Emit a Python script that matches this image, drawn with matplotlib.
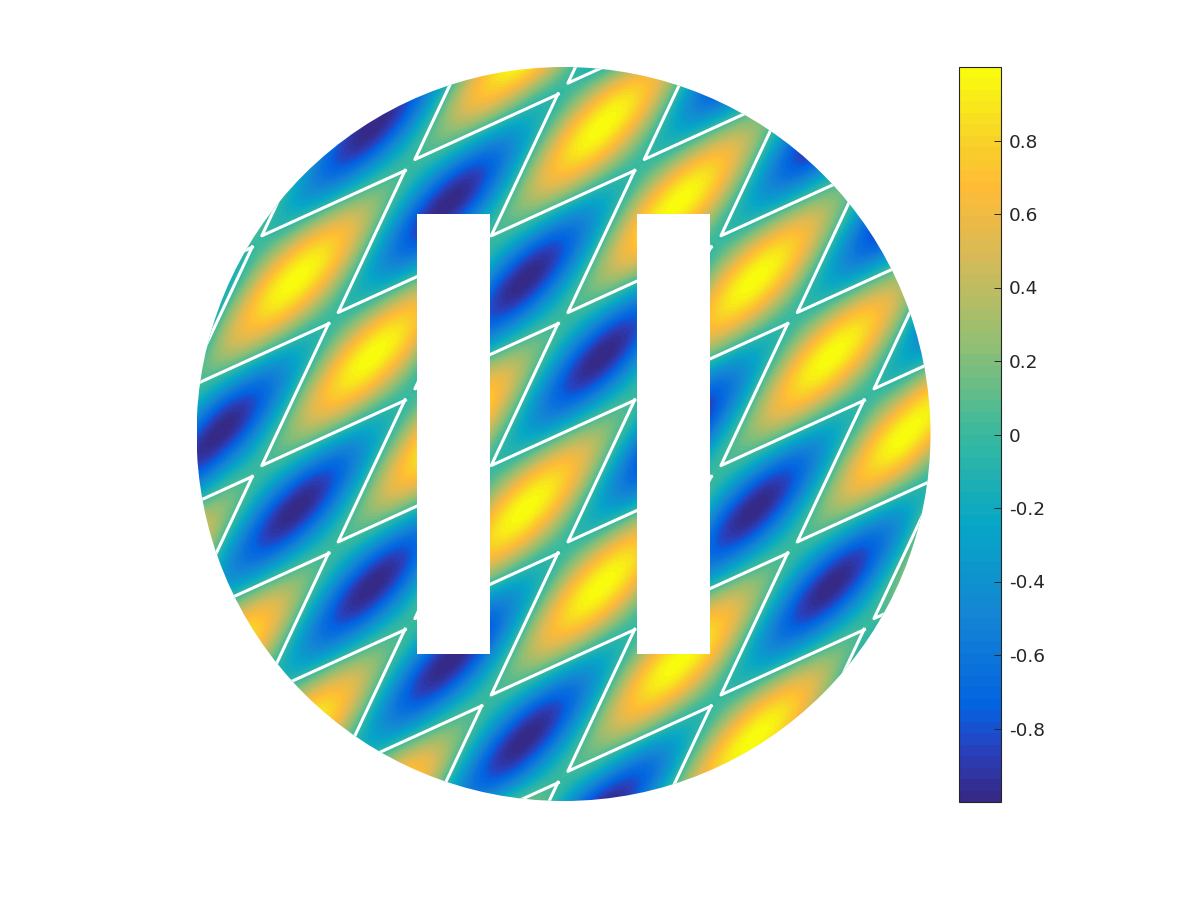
import matplotlib
matplotlib.use("Agg")
import matplotlib.pyplot as plt
from matplotlib.colors import LinearSegmentedColormap
from matplotlib.patches import Circle, Rectangle
import numpy as np

# field samples, top row first (23 x 23)
field_rows = [
    [0, -.75, -.43, 0, -.43, -.75, 0, .75, .43, 0, .43, .75, 0, -.75, -.43, 0, -.43, -.75, 0, .75, .43, 0, .43],
    [-.25, 0, .25, -.43, -1, -.43, .25, 0, -.25, .43, 1, .43, -.25, 0, .25, -.43, -1, -.43, .25, 0, -.25, .43, 1],
    [.43, .75, 0, -.75, -.43, 0, -.43, -.75, 0, .75, .43, 0, .43, .75, 0, -.75, -.43, 0, -.43, -.75, 0, .75, .43],
    [1, .43, -.25, 0, .25, -.43, -1, -.43, .25, 0, -.25, .43, 1, .43, -.25, 0, .25, -.43, -1, -.43, .25, 0, -.25],
    [.43, 0, .43, .75, 0, -.75, -.43, 0, -.43, -.75, 0, .75, .43, 0, .43, .75, 0, -.75, -.43, 0, -.43, -.75, 0],
    [-.25, .43, 1, .43, -.25, 0, .25, -.43, -1, -.43, .25, 0, -.25, .43, 1, .43, -.25, 0, .25, -.43, -1, -.43, .25],
    [0, .75, .43, 0, .43, .75, 0, -.75, -.43, 0, -.43, -.75, 0, .75, .43, 0, .43, .75, 0, -.75, -.43, 0, -.43],
    [.25, 0, -.25, .43, 1, .43, -.25, 0, .25, -.43, -1, -.43, .25, 0, -.25, .43, 1, .43, -.25, 0, .25, -.43, -1],
    [-.43, -.75, 0, .75, .43, 0, .43, .75, 0, -.75, -.43, 0, -.43, -.75, 0, .75, .43, 0, .43, .75, 0, -.75, -.43],
    [-1, -.43, .25, 0, -.25, .43, 1, .43, -.25, 0, .25, -.43, -1, -.43, .25, 0, -.25, .43, 1, .43, -.25, 0, .25],
    [-.43, 0, -.43, -.75, 0, .75, .43, 0, .43, .75, 0, -.75, -.43, 0, -.43, -.75, 0, .75, .43, 0, .43, .75, 0],
    [.25, -.43, -1, -.43, .25, 0, -.25, .43, 1, .43, -.25, 0, .25, -.43, -1, -.43, .25, 0, -.25, .43, 1, .43, -.25],
    [0, -.75, -.43, 0, -.43, -.75, 0, .75, .43, 0, .43, .75, 0, -.75, -.43, 0, -.43, -.75, 0, .75, .43, 0, .43],
    [-.25, 0, .25, -.43, -1, -.43, .25, 0, -.25, .43, 1, .43, -.25, 0, .25, -.43, -1, -.43, .25, 0, -.25, .43, 1],
    [.43, .75, 0, -.75, -.43, 0, -.43, -.75, 0, .75, .43, 0, .43, .75, 0, -.75, -.43, 0, -.43, -.75, 0, .75, .43],
    [1, .43, -.25, 0, .25, -.43, -1, -.43, .25, 0, -.25, .43, 1, .43, -.25, 0, .25, -.43, -1, -.43, .25, 0, -.25],
    [.43, 0, .43, .75, 0, -.75, -.43, 0, -.43, -.75, 0, .75, .43, 0, .43, .75, 0, -.75, -.43, 0, -.43, -.75, 0],
    [-.25, .43, 1, .43, -.25, 0, .25, -.43, -1, -.43, .25, 0, -.25, .43, 1, .43, -.25, 0, .25, -.43, -1, -.43, .25],
    [0, .75, .43, 0, .43, .75, 0, -.75, -.43, 0, -.43, -.75, 0, .75, .43, 0, .43, .75, 0, -.75, -.43, 0, -.43],
    [.25, 0, -.25, .43, 1, .43, -.25, 0, .25, -.43, -1, -.43, .25, 0, -.25, .43, 1, .43, -.25, 0, .25, -.43, -1],
    [-.43, -.75, 0, .75, .43, 0, .43, .75, 0, -.75, -.43, 0, -.43, -.75, 0, .75, .43, 0, .43, .75, 0, -.75, -.43],
    [-1, -.43, .25, 0, -.25, .43, 1, .43, -.25, 0, .25, -.43, -1, -.43, .25, 0, -.25, .43, 1, .43, -.25, 0, .25],
    [-.43, 0, -.43, -.75, 0, .75, .43, 0, .43, .75, 0, -.75, -.43, 0, -.43, -.75, 0, .75, .43, 0, .43, .75, 0],
]
field_extent = (-1.1999, 1.1971, -1.1951, 1.2020)

# places where the white zero lines meet, as (x, y) in disc units
x_rows = {
    "a": [-.835, -.210, .416, 1.041],
    "b": [-1.252, -.627, -.001, .624, 1.249],
    "c": [-1.043, -.418, .207, .833],
}
cross_rows = [
    (1.150, "a"), (.941, "b"), (.733, "c"), (.525, "a"), (.316, "b"), (.108, "c"), (-.101, "a"),
    (-.309, "b"), (-.518, "c"), (-.726, "a"), (-.934, "b"), (-1.143, "c"), (-1.351, "a"),
]
# step to the next meeting point along each line family
shallow_step = (.417, .208)
steep_step = (.208, .417)
corner_gap = (.013, .015)

slit_left = [-.4, .2]
slit_width = .2
slit_bottom = -.6
slit_height = 1.2

cbar_ticks = [-.8, -.6, -.4, -.2, 0, .2, .4, .6, .8]
cbar_labels = ["-0.8", "-0.6", "-0.4", "-0.2", "0", "0.2", "0.4", "0.6", "0.8"]

cmap_stops = [
    (0, "#352a87"), (.0625, "#2a3fbc"), (.125, "#0363e1"), (.25, "#1485d4"), (.375, "#06a7c6"),
    (.5, "#38b99e"), (.625, "#92bf73"), (.75, "#d9ba56"), (.84, "#ffbb36"), (.9, "#f8d02a"), (1, "#f9fb0e"),
]
parula = LinearSegmentedColormap.from_list("parula_like", cmap_stops, N=64)

fig = plt.figure(figsize=(12, 9), dpi=100)
ax = fig.add_axes([196.5 / 1200, 99 / 900, 734 / 1200, 734 / 900])
im = ax.imshow(np.array(field_rows), extent=field_extent, origin="upper", cmap=parula, vmin=-1, vmax=1,
               interpolation="lanczos", interpolation_stage="data", aspect="auto")
disc = Circle((0, 0), 1, transform=ax.transData)
im.set_clip_path(disc)

for y, key in cross_rows:
    for x in x_rows[key]:
        xs = [x + shallow_step[0] - corner_gap[0], x + corner_gap[0], x + steep_step[0] - corner_gap[0]]
        ys = [y + shallow_step[1] - corner_gap[1], y + corner_gap[1], y + steep_step[1] - corner_gap[1]]
        line, = ax.plot(xs, ys, color="white", lw=2.2, solid_joinstyle="round")
        line.set_clip_path(disc)

for left in slit_left:
    ax.add_patch(Rectangle((left, slit_bottom), slit_width, slit_height, facecolor="white", edgecolor="none", zorder=5))

ax.set_xlim(-1, 1)
ax.set_ylim(-1, 1)
ax.axis("off")

cax = fig.add_axes([959 / 1200, 98 / 900, 42 / 1200, 735 / 900])
cbar = fig.colorbar(im, cax=cax, ticks=cbar_ticks)
cbar.set_ticklabels(cbar_labels)
cbar.outline.set_linewidth(.8)
cbar.outline.set_edgecolor("#262626")
cax.tick_params(direction="in", length=5.4, width=.7, color="#262626", labelcolor="#262626", labelsize=13.3, pad=5.5)
cax.minorticks_off()

fig.savefig("out.png", dpi=100)
